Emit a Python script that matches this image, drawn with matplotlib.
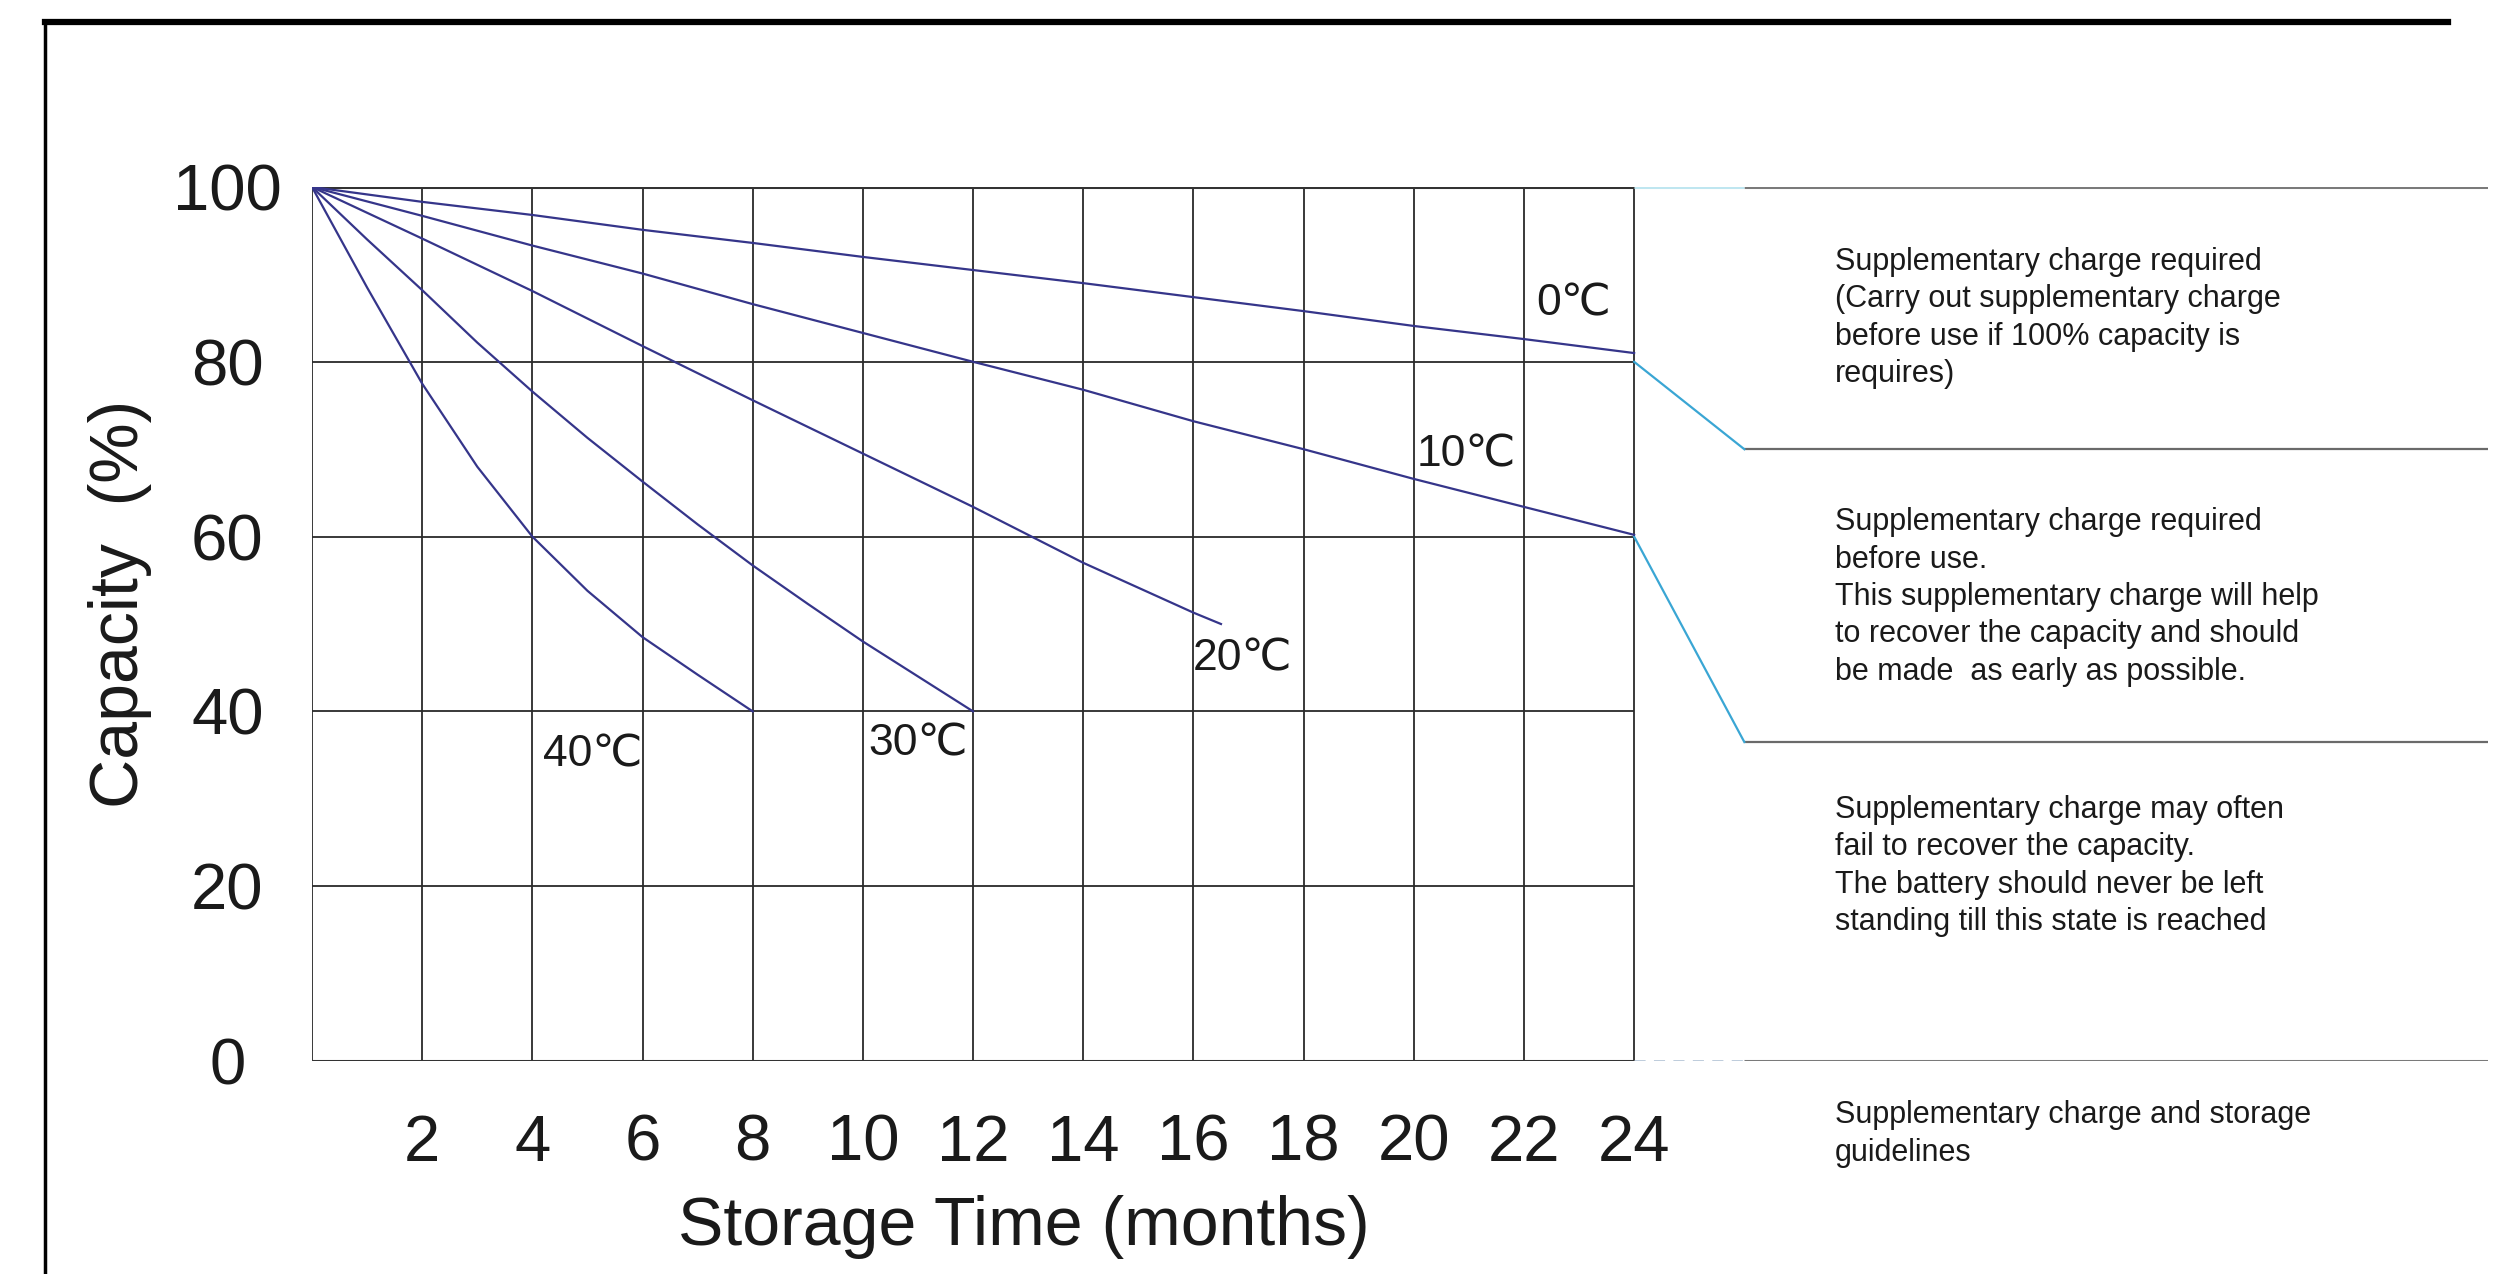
import matplotlib
matplotlib.use("Agg")
import matplotlib.pyplot as plt
from matplotlib.lines import Line2D

plt.rcParams['font.family'] = ['Liberation Sans', 'DejaVu Sans']

# ---- data ----
months_0c = [0, 2, 4, 6, 8, 10, 12, 14, 16, 18, 20, 22, 24]
cap_0c = [100, 98.3, 96.8, 95.1, 93.6, 92.0, 90.5, 89.0, 87.4, 85.8, 84.1, 82.6, 81.0]
months_10c = [0, 2, 4, 6, 8, 10, 12, 14, 16, 18, 20, 22, 24]
cap_10c = [100, 96.7, 93.3, 90.1, 86.6, 83.3, 80.0, 76.8, 73.2, 70.0, 66.6, 63.4, 60.2]
months_20c = [0, 2, 4, 6, 8, 10, 12, 14, 16, 16.5]
cap_20c = [100, 94.1, 88.1, 81.8, 75.6, 69.5, 63.4, 57.0, 51.3, 50.0]
months_30c = [0, 1, 2, 3, 4, 5, 6, 7, 8, 9, 10, 11, 12]
cap_30c = [100, 94.0, 88.2, 82.2, 76.6, 71.3, 66.3, 61.4, 56.7, 52.3, 48.0, 44.0, 40.0]
months_40c = [0, 1, 2, 3, 4, 5, 6, 7, 8]
cap_40c = [100, 88.5, 77.5, 68.0, 60.0, 53.8, 48.5, 44.2, 40.0]

series_labels = ["0℃", "10℃", "20℃", "30℃", "40℃"]
label_x = [22.9, 20.95, 16.9, 11.0, 5.1]
label_y = [86.6, 69.4, 46.0, 36.3, 35.0]

x_ticks = [2, 4, 6, 8, 10, 12, 14, 16, 18, 20, 22, 24]
y_ticks = [0, 20, 40, 60, 80, 100]
x_grid = [0, 2, 4, 6, 8, 10, 12, 14, 16, 18, 20, 22, 24]

# zone boundaries on the right-hand guideline panel
zone_start_y = [80, 60]
zone_end_y = [70, 36.5]
zone_x = [24, 26]
zone_right = 39.5

zone_texts = [
    "Supplementary charge required\n(Carry out supplementary charge\nbefore use if 100% capacity is\nrequires)",
    "Supplementary charge required\nbefore use.\nThis supplementary charge will help\nto recover the capacity and should\nbe made  as early as possible.",
    "Supplementary charge may often\nfail to recover the capacity.\nThe battery should never be left\nstanding till this state is reached",
    "Supplementary charge and storage\nguidelines",
]
zone_text_y = [85.0, 53.1, 22.3, -8.35]
zone_text_x = 27.65

# ---- figure ----
fig = plt.figure(figsize=(25.09, 12.74), dpi=100)
ax = fig.add_axes([312 / 2509, 213 / 1274, (2488 - 312) / 2509, 874 / 1274])
ax.set_xlim(0, zone_right)
ax.set_ylim(0, 100)
for s in ax.spines.values():
    s.set_visible(False)

grid_c = "#2a2a2a"
# vertical grid lines
ax.vlines(x_grid, 0, 100, colors=grid_c, linewidth=1.3, zorder=1)
# inner horizontal grid lines
ax.hlines([20, 40, 60, 80], 0, 24, colors=grid_c, linewidth=1.3, zorder=1)
# outer horizontal lines (0 and 100)
ax.hlines([0, 100], 0, 24, colors="#333333", linewidth=2.2, zorder=1)
ax.hlines([0, 100], zone_x[1], zone_right, colors="#7a7a7a", linewidth=2.2, zorder=1)
ax.hlines([100], 24, zone_x[1], colors="#bfe6f0", linewidth=2.2, zorder=1)
ax.hlines([0], 24, zone_x[1], colors="#b8c8d8", linewidth=2.0, linestyles=(0, (4, 3)), zorder=1)
# zone boundary lines
for y0, y1 in zip(zone_start_y, zone_end_y):
    ax.plot(zone_x, [y0, y1], color="#3aa6d4", linewidth=1.6, zorder=2)
    ax.hlines(y1, zone_x[1], zone_right, colors="#6a6a6a", linewidth=1.6, zorder=1)

curve_c = "#35358a"
for mx, cy in [(months_0c, cap_0c), (months_10c, cap_10c), (months_20c, cap_20c),
               (months_30c, cap_30c), (months_40c, cap_40c)]:
    ax.plot(mx, cy, color=curve_c, linewidth=1.6, zorder=3, solid_joinstyle="round")

for lab, lx, ly in zip(series_labels, label_x, label_y):
    ax.text(lx, ly, lab, fontsize=32, ha="center", va="center", color="#1a1a1a", zorder=4)

for t, ty in zip(zone_texts, zone_text_y):
    ax.text(zone_text_x, ty, t, fontsize=22, ha="left", va="center",
            linespacing=1.32, color="#1a1a1a", clip_on=False)

# ticks
ax.set_xticks(x_ticks)
ax.set_xticklabels([str(v) for v in x_ticks])
ax.set_yticks(y_ticks)
ax.set_yticklabels([str(v) for v in y_ticks])
ax.tick_params(axis="both", length=0, labelsize=47, colors="#1a1a1a")
ax.tick_params(axis="x", pad=38)
ax.tick_params(axis="y", pad=61)
for lab in ax.get_yticklabels():
    lab.set_horizontalalignment("center")

ax.set_xlabel("Storage Time (months)", fontsize=49, color="#1a1a1a")
ax.xaxis.set_label_coords(0.327, -0.19)
ax.xaxis.label.set_verticalalignment("center")
ax.set_ylabel("Capacity  (%)", fontsize=49, color="#1a1a1a")
ax.yaxis.set_label_coords(-0.0882, 0.523)
ax.yaxis.label.set_verticalalignment("center")

# page frame (top and left border)
fig.add_artist(Line2D([45 / 2509, 2448 / 2509], [1 - 22 / 1274, 1 - 22 / 1274],
                      color="black", linewidth=4.5, transform=fig.transFigure))
fig.add_artist(Line2D([45 / 2509, 45 / 2509], [1 - 22 / 1274, 0],
                      color="black", linewidth=2.5, transform=fig.transFigure))

fig.savefig("out.png", dpi=100, facecolor="white")
